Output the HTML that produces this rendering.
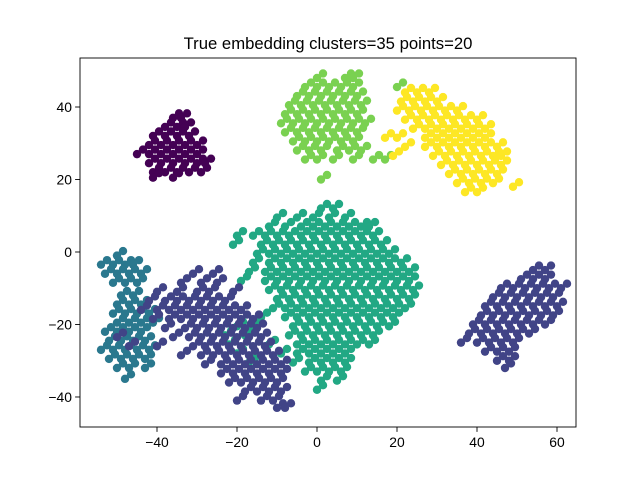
<!DOCTYPE html>
<html><head><meta charset="utf-8">
<style>
html,body{margin:0;padding:0;background:#fff;}
svg{display:block;font-family:"Liberation Sans","DejaVu Sans",sans-serif;}
</style></head>
<body>
<svg id="chart" width="640" height="480" viewBox="0 0 640 480" xmlns="http://www.w3.org/2000/svg">
<rect x="0" y="0" width="640" height="480" fill="#fff"/>
<text x="328" y="49" font-size="16.7" text-anchor="middle">True embedding clusters=35 points=20</text>
<g id="points"></g>
<rect x="80" y="58" width="496" height="369" fill="none" stroke="#000" stroke-width="0.9"/>
<g id="axes"></g>
</svg>
<script>
const xTicks = [-40, -20, 0, 20, 40, 60];
const yTicks = [-40, -20, 0, 20, 40];
const seriesColors = ["#440154", "#22a884", "#2a788e", "#414487", "#414487", "#7ad151", "#fde725"];
const purpleRows = [[37,[-36,-34]],[34.5,[-38,-35,-33]],[32,[-41,-38,-35,-32]],[29.5,[-42,-39,-36,-33,-30]],[27,[-45,-42,-39,-36,-33,-30]],[24.5,[-42,-39,-36,-33,-30,-28]],[22,[-41,-38,-35,-32,-29]],[20.5,[-41,-36]]];
const greenRows = [[12,[1,4]],[9.5,[-10,-5,-1,3,7]],[7,[-12,-8,-4,-1,2,5,8,11,13]],[4.5,[-20,-16,-13,-10,-7,-4,-1,2,5,8,11,14]],[2,[-21,-14,-11,-8,-5,-2,1,4,7,10,13,16]],[-0.5,[-15,-12,-9,-6,-3,0,3,6,9,12,15,18]],[-3,[-16,-12,-9,-6,-3,0,3,6,9,12,15,18,21]],[-5.5,[-17,-13,-10,-7,-4,-1,2,5,8,11,14,17,20,23]],[-8,[-19,-13,-10,-7,-4,-1,2,5,8,11,14,17,20,23]],[-10.5,[-12,-9,-6,-3,0,3,6,9,12,15,18,21,24]],[-13,[-10,-7,-4,-1,2,5,8,11,14,17,20,23]],[-15.5,[-11,-8,-5,-2,1,4,7,10,13,16,19,22]],[-18,[-14,-8,-5,-2,1,4,7,10,13,16,19]],[-20.5,[-20,-16,-6,-3,0,3,6,9,12,15,18]],[-23,[-23,-18,-7,-4,-1,2,5,8,11,14]],[-25.5,[-22,-12,-5,-2,1,4,7,10,13]],[-28,[-20,-9,-5,-2,1,4,7]],[-30.5,[-17,-6,-2,1,4,7]],[-33,[-3,0,3,6]],[-35.5,[1,5]],[-38,[0]]];
const tealRows = [[-1,[-50]],[-3.5,[-54,-51,-48,-46]],[-6,[-53,-50,-47,-44]],[-8.5,[-51,-48,-45]],[-12,[-49,-46]],[-14.5,[-50,-47,-44]],[-17,[-51,-48,-45,-42]],[-19.5,[-50,-47,-44,-41]],[-22,[-53,-50,-47,-44]],[-24.5,[-52,-49,-46,-43]],[-27,[-54,-51,-48,-45,-42]],[-29.5,[-52,-49,-46,-43]],[-32,[-50,-47,-43]],[-35,[-48]]];
const navyLeftRows = [[-6,[-31,-26]],[-8.5,[-34,-29,-25]],[-11,[-40,-35,-30,-27,-21]],[-13.5,[-42,-38,-35,-32,-29,-26,-23]],[-16,[-44,-40,-37,-34,-31,-28,-25,-22,-19]],[-18.5,[-41,-37,-34,-31,-28,-25,-22,-19,-16]],[-21,[-38,-33,-30,-27,-24,-21,-18,-15]],[-23.5,[-50,-36,-32,-29,-26,-23,-20,-17,-14]],[-26,[-47,-40,-31,-28,-25,-22,-19,-16,-13]],[-28.5,[-34,-29,-26,-23,-20,-17,-14,-11]],[-31,[-28,-24,-21,-18,-15,-12,-9]],[-33.5,[-24,-21,-18,-15,-12,-9]],[-36,[-22,-19,-16,-13,-10]],[-38.5,[-18,-15,-12,-9]],[-41,[-20,-14,-11]],[-43,[-10,-8]]];
const navyRightRows = [[-5,[54,57]],[-7.5,[51,54,57]],[-10,[46,49,52,55,58,61]],[-12.5,[44,47,50,53,56,59]],[-15,[42,45,48,51,54,57,60]],[-17.5,[41,44,47,50,53,56,59]],[-20,[39,42,45,48,51,54,57]],[-22.5,[38,41,44,47,50,53]],[-25,[36,40,43,46,49]],[-27.5,[42,45,48]],[-30,[45,48]],[-32,[47]]];
const lightGreenRows = [[48,[0,7,9]],[45.5,[-3,0,3,6,9,20]],[43,[-5,-2,1,4,7,10]],[40.5,[-7,-4,-1,2,5,8,11]],[38,[-8,-5,-2,1,4,7,10]],[35.5,[-9,-6,-3,0,3,6,9,12]],[33,[-8,-5,-2,1,4,7,10]],[30.5,[-6,-3,0,3,6,9]],[28,[-5,-2,1,5,8,11]],[25.5,[-3,0,4,9,14,17]],[20,[1]]];
const yellowRows = [[44,[22,25,28]],[41.5,[21,24,27,30]],[39,[20,23,26,29,32,35]],[36.5,[22,25,28,31,34,37,40]],[34,[24,27,30,33,36,39,42]],[31.5,[17,20,27,30,33,36,39,42]],[29,[22,27,30,33,36,39,42,45]],[26.5,[19,29,32,35,38,41,44,46]],[24,[31,34,37,40,43,46]],[21.5,[33,36,39,42,45]],[19,[35,38,41,44]],[18,[49]],[16.5,[37,40]]];
const seriesRows = [purpleRows, greenRows, tealRows, navyLeftRows, navyRightRows, lightGreenRows, yellowRows];

const X0 = 80, X1 = 576, Y0 = 58, Y1 = 427;
const xMin = -59.25, xMax = 64.75, yMin = -48.28, yMax = 53.52;
function sx(v){ return X0 + (v - xMin) / (xMax - xMin) * (X1 - X0); }
function sy(v){ return Y1 - (v - yMin) / (yMax - yMin) * (Y1 - Y0); }
const NS = "http://www.w3.org/2000/svg";
const pg = document.getElementById("points");
function addDot(xv, yv, color){
  const c = document.createElementNS(NS, "circle");
  c.setAttribute("cx", sx(xv).toFixed(2));
  c.setAttribute("cy", sy(yv).toFixed(2));
  c.setAttribute("r", "4.2");
  c.setAttribute("fill", color);
  
  
  pg.appendChild(c);
}
seriesRows.forEach(function(rows, si){
  rows.forEach(function(row){
    row[1].forEach(function(xv){
      addDot(xv, row[0], seriesColors[si]);
      addDot(xv + 1.5, row[0] + 1.25, seriesColors[si]);
    });
  });
});
const ax = document.getElementById("axes");
xTicks.forEach(function(t){
  const x = sx(t);
  const l = document.createElementNS(NS, "line");
  l.setAttribute("x1", x); l.setAttribute("x2", x); l.setAttribute("y1", Y1); l.setAttribute("y2", Y1 + 4.9);
  l.setAttribute("stroke", "#000"); l.setAttribute("stroke-width", "0.9");
  
  
  ax.appendChild(l);
  const tx = document.createElementNS(NS, "text");
  tx.setAttribute("x", x); tx.setAttribute("y", Y1 + 20); tx.setAttribute("font-size", "13.9"); tx.setAttribute("text-anchor", "middle");
  tx.textContent = t < 0 ? "\u2212" + Math.abs(t) : String(t);
  
  
  ax.appendChild(tx);
});
yTicks.forEach(function(t){
  const y = sy(t);
  const l = document.createElementNS(NS, "line");
  l.setAttribute("x1", X0 - 4.9); l.setAttribute("x2", X0); l.setAttribute("y1", y); l.setAttribute("y2", y);
  l.setAttribute("stroke", "#000"); l.setAttribute("stroke-width", "0.9");
  
  
  ax.appendChild(l);
  const tx = document.createElementNS(NS, "text");
  tx.setAttribute("x", X0 - 8); tx.setAttribute("y", y + 5); tx.setAttribute("font-size", "13.9"); tx.setAttribute("text-anchor", "end");
  tx.textContent = t < 0 ? "\u2212" + Math.abs(t) : String(t);
  
  
  ax.appendChild(tx);
});
</script>
</body></html>
